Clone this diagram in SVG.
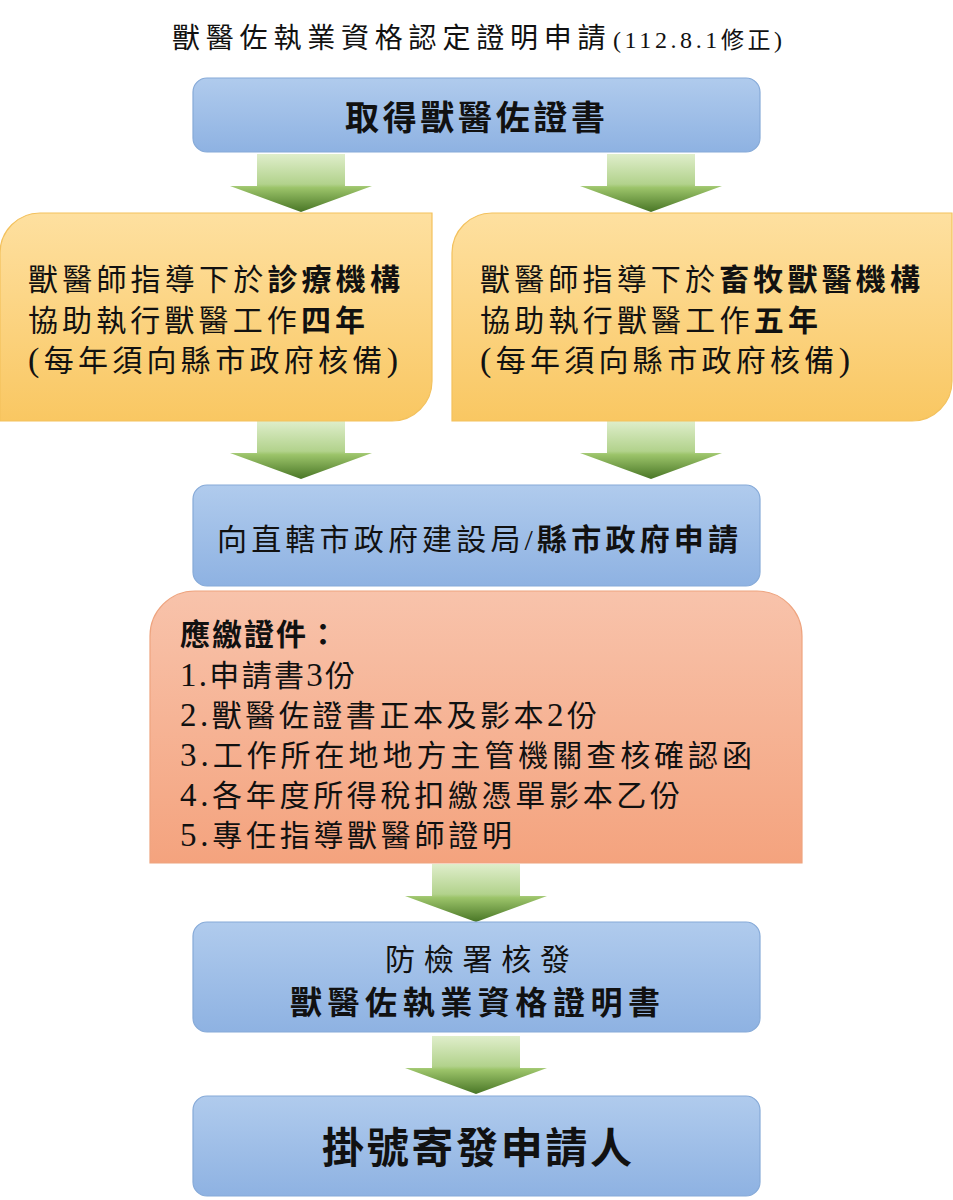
<svg xmlns="http://www.w3.org/2000/svg" xmlns:xlink="http://www.w3.org/1999/xlink" width="953" height="1200" viewBox="0 0 953 1200">
<style>
text{font-family:"Noto Sans CJK TC","Noto Sans CJK SC",sans-serif;fill:#111;}
.lat{font-family:"Liberation Serif","Noto Sans CJK TC",serif;}
.b{font-weight:700;}
.blue{fill:url(#gBlue);stroke:#86aad8;stroke-width:1.2;}
.orange{fill:url(#gOrange);stroke:#f3c15d;stroke-width:1.2;}
.salmon{fill:url(#gSalmon);stroke:#eea47f;stroke-width:1.2;}
.arrow{fill:url(#gArrow);}
</style>
<defs>
<linearGradient id="gBlue" x1="0" y1="0" x2="0" y2="1">
<stop offset="0" stop-color="#b0cbed"/><stop offset="1" stop-color="#8eb2e2"/>
</linearGradient>
<linearGradient id="gOrange" x1="0" y1="0" x2="0" y2="1">
<stop offset="0" stop-color="#fee0a0"/><stop offset="1" stop-color="#f9c762"/>
</linearGradient>
<linearGradient id="gSalmon" x1="0" y1="0" x2="0" y2="1">
<stop offset="0" stop-color="#f8c3ab"/><stop offset="1" stop-color="#f4a37e"/>
</linearGradient>
<linearGradient id="gArrow" x1="0" y1="0" x2="0" y2="1">
<stop offset="0" stop-color="#dfeecb"/><stop offset="0.52" stop-color="#b2d28c"/><stop offset="0.58" stop-color="#9cc46a"/><stop offset="1" stop-color="#497626"/>
</linearGradient>
<path id="arr" class="arrow" d="M-44,0 H44 V32 H71 L0,58 L-71,32 H-44 Z"/>
</defs>
<rect width="953" height="1200" fill="#fff"/>

<g id="title">
<text x="172" y="48" font-size="28" letter-spacing="5.8">獸醫佐執業資格認定證明申請</text>
<text x="613" y="48" font-size="24" letter-spacing="3.6"><tspan class="lat">(112.8.1</tspan><tspan font-size="23">修正</tspan><tspan class="lat">)</tspan></text>
</g>

<g id="connectors">
<use xlink:href="#arr" x="301" y="154"/>
<use xlink:href="#arr" x="651" y="154"/>
<use xlink:href="#arr" x="301" y="421"/>
<use xlink:href="#arr" x="651" y="421"/>
<use xlink:href="#arr" x="476" y="864"/>
<use xlink:href="#arr" x="476" y="1036"/>
</g>

<g id="node-certificate">
<rect class="blue" x="193" y="78" width="567" height="74" rx="14"/>
<text x="345" y="130" font-size="34" class="b" textLength="260" lengthAdjust="spacing">取得獸醫佐證書</text>
</g>

<g id="node-clinic">
<path class="orange" d="M40,213 H432 V381 A40,40 0 0 1 392,421 H0 V253 A40,40 0 0 1 40,213 Z"/>
<text x="28" y="290" font-size="30" textLength="372" lengthAdjust="spacing">獸醫師指導下於<tspan class="b">診療機構</tspan></text>
<text x="28" y="331" font-size="30" textLength="337" lengthAdjust="spacing">協助執行獸醫工作<tspan class="b">四年</tspan></text>
<text x="28" y="371" font-size="30" textLength="370" lengthAdjust="spacing"><tspan class="lat" font-size="34">(</tspan>每年須向縣市政府核備<tspan class="lat" font-size="34">)</tspan></text>
</g>

<g id="node-livestock">
<path class="orange" d="M492,213 H952 V381 A40,40 0 0 1 912,421 H452 V253 A40,40 0 0 1 492,213 Z"/>
<text x="480" y="290" font-size="30" textLength="440" lengthAdjust="spacing">獸醫師指導下於<tspan class="b">畜牧獸醫機構</tspan></text>
<text x="480" y="331" font-size="30" textLength="338" lengthAdjust="spacing">協助執行獸醫工作<tspan class="b">五年</tspan></text>
<text x="480" y="371" font-size="30" textLength="370" lengthAdjust="spacing"><tspan class="lat" font-size="34">(</tspan>每年須向縣市政府核備<tspan class="lat" font-size="34">)</tspan></text>
</g>

<g id="node-apply">
<rect class="blue" x="193" y="485" width="567" height="101" rx="14"/>
<text x="217" y="550" font-size="30" textLength="521" lengthAdjust="spacing">向直轄市政府建設局<tspan class="lat">/</tspan><tspan class="b">縣市政府申請</tspan></text>
</g>

<g id="node-documents">
<path class="salmon" d="M195,591 H757 A45,45 0 0 1 802,636 V863 H150 V636 A45,45 0 0 1 195,591 Z"/>
<text x="180" y="645" font-size="30" class="b" textLength="158" lengthAdjust="spacing">應繳證件：</text>
<text x="180" y="686" font-size="30" textLength="175" lengthAdjust="spacing"><tspan class="lat" font-size="33">1.</tspan>申請書<tspan class="lat" font-size="33">3</tspan>份</text>
<text x="180" y="726" font-size="30" textLength="417" lengthAdjust="spacing"><tspan class="lat" font-size="33">2.</tspan>獸醫佐證書正本及影本<tspan class="lat" font-size="33">2</tspan>份</text>
<text x="180" y="766" font-size="30" textLength="572" lengthAdjust="spacing"><tspan class="lat" font-size="33">3.</tspan>工作所在地地方主管機關查核確認函</text>
<text x="180" y="806" font-size="30" textLength="500" lengthAdjust="spacing"><tspan class="lat" font-size="33">4.</tspan>各年度所得稅扣繳憑單影本乙份</text>
<text x="180" y="846" font-size="30" textLength="332" lengthAdjust="spacing"><tspan class="lat" font-size="33">5.</tspan>專任指導獸醫師證明</text>
</g>

<g id="node-issue">
<rect class="blue" x="193" y="922" width="567" height="110" rx="14"/>
<text x="385" y="970" font-size="30" textLength="185" lengthAdjust="spacing">防檢署核發</text>
<text x="290" y="1014" font-size="32" class="b" textLength="370" lengthAdjust="spacing">獸醫佐執業資格證明書</text>
</g>

<g id="node-mail">
<rect class="blue" x="193" y="1096" width="567" height="100" rx="14"/>
<text x="322" y="1163" font-size="42" class="b" textLength="310" lengthAdjust="spacing">掛號寄發申請人</text>
</g>
</svg>
